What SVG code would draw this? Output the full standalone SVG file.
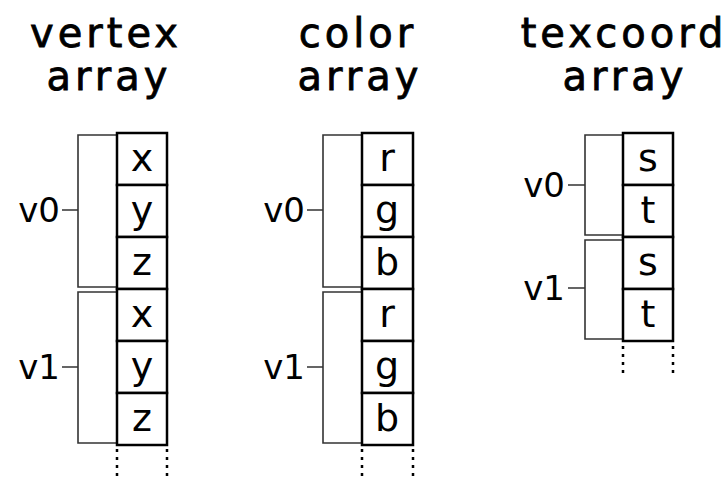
<svg xmlns="http://www.w3.org/2000/svg" width="728" height="478" viewBox="0 0 728 478">
<style>
.title{font-family:"DejaVu Sans","Liberation Sans",sans-serif;font-size:40px;fill:#000;stroke:#000;stroke-width:0.8;text-anchor:middle;letter-spacing:4px}
.cell rect{fill:#fff;stroke:#000;stroke-width:2.5}
.cell text{font-family:"DejaVu Sans","Liberation Sans",sans-serif;font-size:38px;fill:#000;text-anchor:middle}
.lbl{font-family:"DejaVu Sans","Liberation Sans",sans-serif;font-size:34px;fill:#000;text-anchor:end}
.br{fill:none;stroke:#333;stroke-width:1.6}
.dot{fill:none;stroke:#000;stroke-width:2.5;stroke-dasharray:3 5}
</style>
<rect width="728" height="478" fill="#fff"/>
<g id="titles">
<text class="title" x="106" y="47">vertex</text>
<text class="title" x="109" y="90">array</text>
<text class="title" x="358" y="47">color</text>
<text class="title" x="360" y="90">array</text>
<text class="title" x="624" y="47">texcoord</text>
<text class="title" x="625" y="90">array</text>
</g>
<g id="connectors">
<path class="br" d="M117,135 H78 V287 H117 M117,292 H78 V443 H117 M62,210 H78 M62,367 H78"/>
<path class="br" d="M362,135 H323 V287 H362 M362,292 H323 V443 H362 M307,210 H323 M307,367 H323"/>
<path class="br" d="M623,135 H585 V235 H623 M623,240 H585 V339 H623 M568,185 H585 M568,288 H585"/>
<path class="dot" d="M117,449 V476 M167,449 V476 M362,449 V476 M413,449 V476 M623,346 V373 M673,346 V373"/>
</g>
<g id="vertex-array" class="cell">
<rect x="117" y="133" width="50" height="52"/><text x="142" y="171">x</text>
<rect x="117" y="185" width="50" height="52"/><text x="142" y="223">y</text>
<rect x="117" y="237" width="50" height="52"/><text x="142" y="275">z</text>
<rect x="117" y="289" width="50" height="52"/><text x="142" y="327">x</text>
<rect x="117" y="341" width="50" height="52"/><text x="142" y="379">y</text>
<rect x="117" y="393" width="50" height="52"/><text x="142" y="431">z</text>
</g>
<g id="color-array" class="cell">
<rect x="362" y="133" width="51" height="52"/><text x="387" y="171">r</text>
<rect x="362" y="185" width="51" height="52"/><text x="387" y="223">g</text>
<rect x="362" y="237" width="51" height="52"/><text x="387" y="275">b</text>
<rect x="362" y="289" width="51" height="52"/><text x="387" y="327">r</text>
<rect x="362" y="341" width="51" height="52"/><text x="387" y="379">g</text>
<rect x="362" y="393" width="51" height="52"/><text x="387" y="431">b</text>
</g>
<g id="texcoord-array" class="cell">
<rect x="623" y="133" width="50" height="52"/><text x="648" y="171">s</text>
<rect x="623" y="185" width="50" height="52"/><text x="648" y="223">t</text>
<rect x="623" y="237" width="50" height="52"/><text x="648" y="275">s</text>
<rect x="623" y="289" width="50" height="52"/><text x="648" y="327">t</text>
</g>
<g id="labels">
<text class="lbl" x="60" y="222">v0</text>
<text class="lbl" x="60" y="379">v1</text>
<text class="lbl" x="305" y="222">v0</text>
<text class="lbl" x="305" y="379">v1</text>
<text class="lbl" x="565" y="197">v0</text>
<text class="lbl" x="565" y="300">v1</text>
</g>
</svg>
